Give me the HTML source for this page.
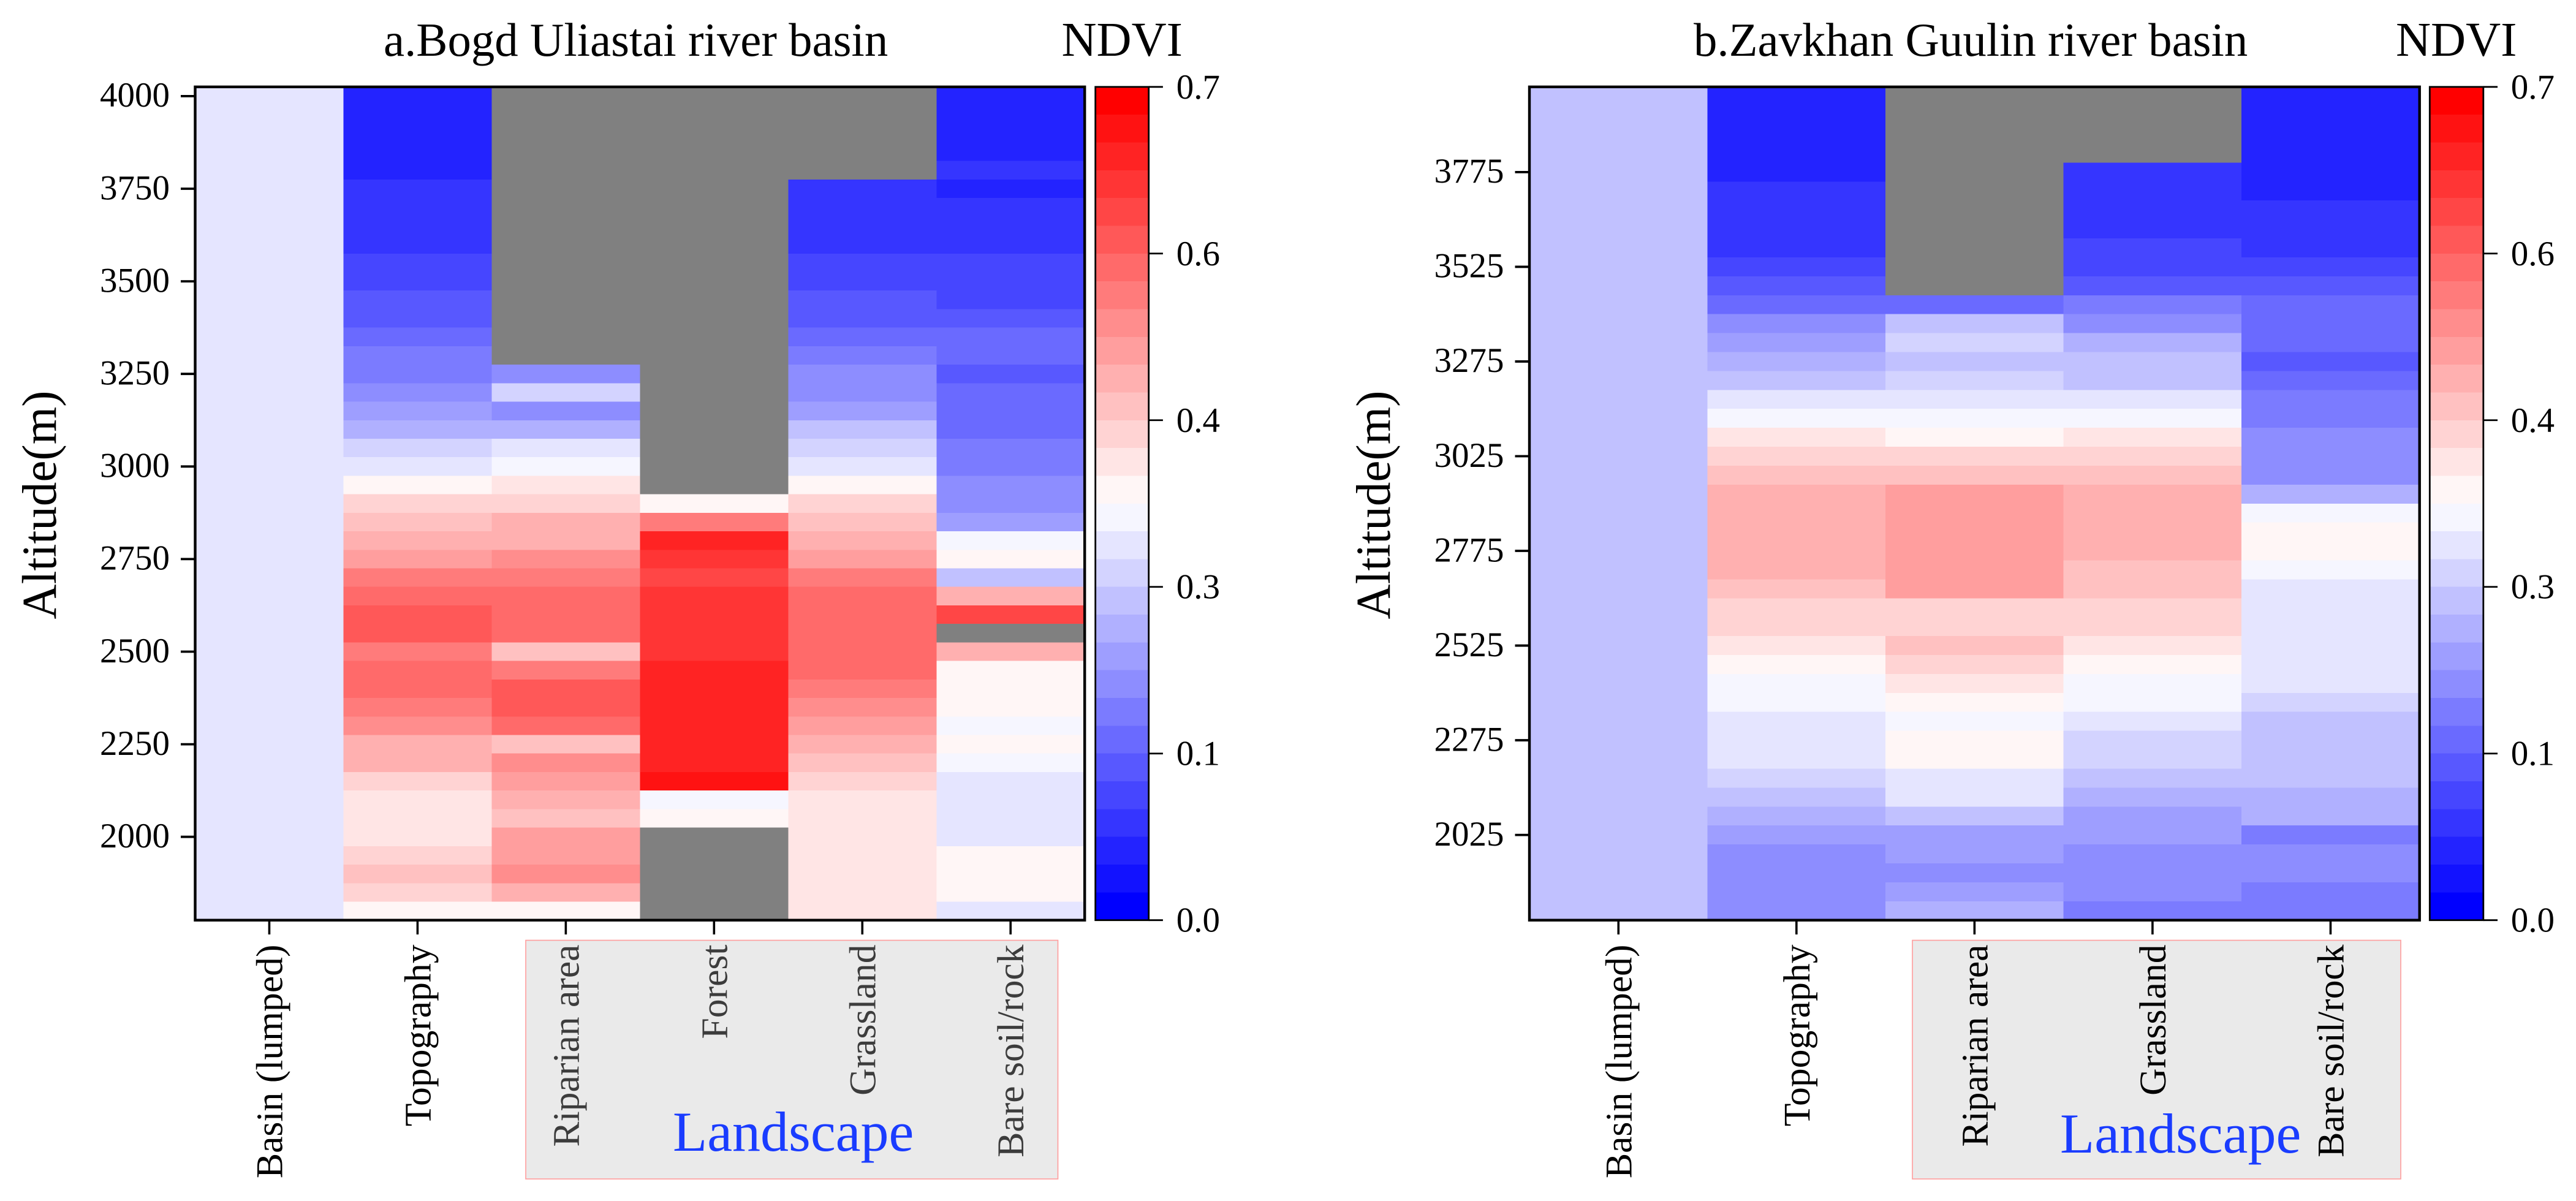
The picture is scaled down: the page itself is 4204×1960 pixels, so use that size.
<!DOCTYPE html>
<html lang="en">
<head>
<meta charset="utf-8">
<title>NDVI by altitude and landscape</title>
<style>
html,body{margin:0;padding:0;background:#fff;}
svg{display:block;}
text{font-family:"Liberation Serif","Times New Roman",serif;fill:#000;}
</style>
</head>
<body>
<svg id="figure" xmlns="http://www.w3.org/2000/svg" width="4204" height="1960" viewBox="0 0 4204 1960">
  <rect x="0" y="0" width="4204" height="1960" fill="#ffffff"/>
  <g id="panel-a">
    <rect x="858" y="1534.5" width="868.5" height="389.5" fill="#eaeaea" stroke="#ff9c9c" stroke-width="1.6"/>
    <text x="626" y="91" font-size="76.8">a.Bogd Uliastai river basin</text>
    <text x="1732.5" y="91" font-size="79">NDVI</text>
    <text transform="translate(91,824) rotate(-90)" text-anchor="middle" font-size="79">Altitude(m)</text>
    <text x="1098" y="1878" font-size="92" style="fill:#1a3cff">Landscape</text>
  </g>
  <g id="panel-b">
    <rect x="3121" y="1534.5" width="797" height="389.5" fill="#eaeaea" stroke="#ff9c9c" stroke-width="1.6"/>
    <text x="2764" y="91" font-size="76.8">b.Zavkhan Guulin river basin</text>
    <text x="3910" y="91" font-size="79">NDVI</text>
    <text transform="translate(2268,824) rotate(-90)" text-anchor="middle" font-size="79">Altitude(m)</text>
    <text x="3362" y="1881" font-size="92" style="fill:#1a3cff">Landscape</text>
  </g>
</svg>
<script>
// ---- Panel A data (NDVI per 50 m altitude band; null = no such land cover) ----
const categoriesA = ["Basin (lumped)", "Topography", "Riparian area", "Forest", "Grassland", "Bare soil/rock"];
const altitudesA = [4000,3950,3900,3850,3800,3750,3700,3650,3600,3550,3500,3450,3400,3350,3300,3250,3200,3150,3100,3050,3000,2950,2900,2850,2800,2750,2700,2650,2600,2550,2500,2450,2400,2350,2300,2250,2200,2150,2100,2050,2000,1950,1900,1850,1800];
const yTicksA = [4000,3750,3500,3250,3000,2750,2500,2250,2000];
const basinA = [.315,.315,.315,.315,.315,.315,.315,.315,.315,.315,.315,.315,.315,.315,.315,.315,.315,.315,.315,.315,.315,.315,.315,.315,.315,.315,.315,.315,.315,.315,.315,.315,.315,.315,.315,.315,.315,.315,.315,.315,.315,.315,.315,.315,.315];
const topographyA = [.058,.058,.058,.058,.058,.082,.082,.082,.082,.105,.105,.128,.128,.152,.175,.175,.198,.222,.245,.292,.315,.362,.408,.432,.455,.478,.525,.548,.572,.572,.525,.548,.548,.525,.502,.455,.455,.408,.385,.385,.385,.408,.432,.408,.362];
const riparianA = [null,null,null,null,null,null,null,null,null,null,null,null,null,null,null,.198,.292,.198,.245,.315,.338,.385,.408,.455,.455,.502,.525,.548,.548,.548,.432,.525,.572,.572,.548,.432,.502,.478,.455,.432,.478,.478,.502,.455,.362];
const forestA = [null,null,null,null,null,null,null,null,null,null,null,null,null,null,null,null,null,null,null,null,null,null,.362,.525,.642,.618,.595,.618,.618,.618,.618,.642,.642,.642,.642,.642,.642,.665,.338,.362,null,null,null,null,null];
const grasslandA = [null,null,null,null,null,.082,.082,.082,.082,.105,.105,.128,.128,.152,.175,.198,.198,.222,.268,.292,.315,.362,.408,.432,.455,.478,.525,.548,.548,.548,.548,.548,.525,.502,.478,.455,.432,.408,.385,.385,.385,.385,.385,.385,.385];
const bareA = [.058,.058,.058,.058,.082,.058,.082,.082,.082,.105,.105,.105,.128,.152,.152,.128,.152,.152,.152,.175,.175,.198,.198,.222,.338,.362,.268,.455,.595,null,.455,.362,.362,.362,.338,.362,.338,.315,.315,.315,.315,.362,.362,.362,.315];

// ---- Panel B data ----
const categoriesB = ["Basin (lumped)", "Topography", "Riparian area", "Grassland", "Bare soil/rock"];
const altitudesB = [3975,3925,3875,3825,3775,3725,3675,3625,3575,3525,3475,3425,3375,3325,3275,3225,3175,3125,3075,3025,2975,2925,2875,2825,2775,2725,2675,2625,2575,2525,2475,2425,2375,2325,2275,2225,2175,2125,2075,2025,1975,1925,1875,1825];
const yTicksB = [3775,3525,3275,3025,2775,2525,2275,2025];
const basinB = [.268,.268,.268,.268,.268,.268,.268,.268,.268,.268,.268,.268,.268,.268,.268,.268,.268,.268,.268,.268,.268,.268,.268,.268,.268,.268,.268,.268,.268,.268,.268,.268,.268,.268,.268,.268,.268,.268,.268,.268,.268,.268,.268,.268];
const topographyB = [.058,.058,.058,.058,.058,.082,.082,.082,.082,.105,.128,.152,.198,.222,.245,.268,.315,.338,.385,.408,.432,.455,.455,.455,.455,.455,.432,.408,.408,.385,.362,.338,.338,.315,.315,.315,.292,.268,.245,.222,.198,.198,.198,.198];
const riparianB = [null,null,null,null,null,null,null,null,null,null,null,.152,.268,.292,.268,.292,.315,.338,.362,.408,.432,.478,.478,.478,.478,.478,.478,.408,.408,.432,.408,.385,.362,.338,.362,.362,.315,.315,.268,.222,.222,.198,.222,.245];
const grasslandB = [null,null,null,null,.082,.082,.082,.082,.105,.105,.128,.175,.198,.245,.268,.268,.315,.338,.385,.408,.432,.455,.455,.455,.455,.432,.432,.408,.408,.385,.362,.338,.338,.315,.292,.292,.268,.245,.222,.222,.198,.198,.198,.175];
const bareB = [.058,.058,.058,.058,.058,.058,.082,.082,.082,.105,.128,.152,.152,.152,.128,.152,.175,.175,.198,.198,.198,.245,.338,.362,.362,.338,.315,.315,.315,.315,.315,.315,.292,.268,.268,.268,.268,.245,.245,.175,.198,.198,.175,.175];

// ---- Colour bar data ----
const colorbarTickValues = [0, 0.14, 0.28, 0.42, 0.56, 0.7];
const colorbarTickLabels = ["0.0", "0.1", "0.3", "0.4", "0.6", "0.7"];
const colorbarMax = 0.7;
const colorbarLevels = 30;

const SVG_NS = "http://www.w3.org/2000/svg";
const BLACK = "#000000";
const NO_DATA = "#808080";

function levelColor(i) {
  const t = i / (colorbarLevels - 1);
  if (t <= 0.5) {
    const c = Math.round(255 * t * 2);
    return "rgb(" + c + "," + c + ",255)";
  }
  const c = Math.round(255 * (1 - t) * 2);
  return "rgb(255," + c + "," + c + ")";
}
function valueColor(v) {
  if (v === null || v === undefined || isNaN(v)) return NO_DATA;
  const lvl = Math.max(0, Math.min(colorbarLevels - 1, Math.floor(v / colorbarMax * colorbarLevels)));
  return levelColor(lvl);
}
function setAll(el, attrs) {
  for (const k in attrs) el.setAttribute(k, attrs[k]);
  return el;
}
function drawLine(parent, x1, y1, x2, y2, width) {
  const el = document.createElementNS(SVG_NS, "line");
  setAll(el, {x1: x1, y1: y1, x2: x2, y2: y2, stroke: BLACK, "stroke-width": width});
  parent.appendChild(el);
  return el;
}

function drawPanel(parentId, cfg) {
  const parent = document.getElementById(parentId);
  const top = 141.8, bottom = 1501.7;
  const band = (cfg.right - cfg.left) / cfg.categories.length;
  const xScale = function (i) { return cfg.left + band * i; };
  const step = Math.abs(cfg.altitudes[0] - cfg.altitudes[1]);
  const altTop = cfg.altitudes[0] + step / 2;
  const altBottom = cfg.altitudes[cfg.altitudes.length - 1] - step / 2;
  const yScale = function (a) { return top + (altTop - a) / (altTop - altBottom) * (bottom - top); };

  // heatmap cells
  cfg.columns.forEach(function (col, c) {
    col.forEach(function (v, r) {
      const cell = document.createElementNS(SVG_NS, "rect");
      const a = cfg.altitudes[r];
      setAll(cell, {
        x: xScale(c), width: band,
        y: yScale(a + step / 2), height: yScale(a - step / 2) - yScale(a + step / 2),
        fill: valueColor(v), "shape-rendering": "crispEdges"
      });
      
      
      parent.appendChild(cell);
    });
  });

  // plot frame
  const frame = document.createElementNS(SVG_NS, "rect");
  setAll(frame, {x: cfg.left, y: top, width: cfg.right - cfg.left, height: bottom - top, fill: "none", stroke: BLACK, "stroke-width": 4.4});
  
  
  parent.appendChild(frame);

  // y ticks
  cfg.yTicks.forEach(function (a) {
    const y = yScale(a);
    const tick = drawLine(parent, cfg.left - 23.5, y, cfg.left, y, 3.8);
    
    
    const label = document.createElementNS(SVG_NS, "text");
    setAll(label, {x: cfg.left - 41.5, y: y + 17.3, "text-anchor": "end", "font-size": 57});
    label.textContent = String(a);
    
    
    parent.appendChild(label);
  });

  // x ticks and rotated labels
  cfg.categories.forEach(function (name, i) {
    const x = xScale(i) + band / 2;
    const tick = drawLine(parent, x, bottom, x, 1525, 3.6);
    
    
    const label = document.createElementNS(SVG_NS, "text");
    setAll(label, {
      transform: "translate(" + (x + 21) + ",1541.5) rotate(-90)",
      "text-anchor": "end", "font-size": 61.6
    });
    label.style.fill = i >= 2 ? cfg.landscapeTextColor : BLACK;
    label.textContent = name;
    
    
    parent.appendChild(label);
  });

  // colour bar
  const cbY = function (v) { return bottom - v / colorbarMax * (bottom - top); };
  for (let i = 0; i < colorbarLevels; i++) {
    const swatch = document.createElementNS(SVG_NS, "rect");
    const v0 = i / colorbarLevels * colorbarMax;
    const v1 = (i + 1) / colorbarLevels * colorbarMax;
    setAll(swatch, {x: cfg.cbLeft, width: cfg.cbRight - cfg.cbLeft, y: cbY(v1), height: cbY(v0) - cbY(v1), fill: levelColor(i), "shape-rendering": "crispEdges"});
    
    
    parent.appendChild(swatch);
  }
  const cbFrame = document.createElementNS(SVG_NS, "rect");
  setAll(cbFrame, {x: cfg.cbLeft, y: top, width: cfg.cbRight - cfg.cbLeft, height: bottom - top, fill: "none", stroke: BLACK, "stroke-width": 2.8});
  
  
  parent.appendChild(cbFrame);
  colorbarTickValues.forEach(function (v, i) {
    const y = cbY(v);
    const tick = drawLine(parent, cfg.cbRight, y, cfg.cbRight + 23.2, y, 2.8);
    
    
    const label = document.createElementNS(SVG_NS, "text");
    setAll(label, {x: cfg.cbRight + 45, y: y + 19, "font-size": 57});
    label.textContent = colorbarTickLabels[i];
    
    
    parent.appendChild(label);
  });
}

drawPanel("panel-a", {
  left: 318.5, right: 1770.2, cbLeft: 1787.7, cbRight: 1874.7,
  categories: categoriesA, altitudes: altitudesA, yTicks: yTicksA,
  columns: [basinA, topographyA, riparianA, forestA, grasslandA, bareA],
  landscapeTextColor: "#3c3c3c"
});
drawPanel("panel-b", {
  left: 2496, right: 3948.7, cbLeft: 3965.3, cbRight: 4052.8,
  categories: categoriesB, altitudes: altitudesB, yTicks: yTicksB,
  columns: [basinB, topographyB, riparianB, grasslandB, bareB],
  landscapeTextColor: "#000000"
});
</script>
</body>
</html>
